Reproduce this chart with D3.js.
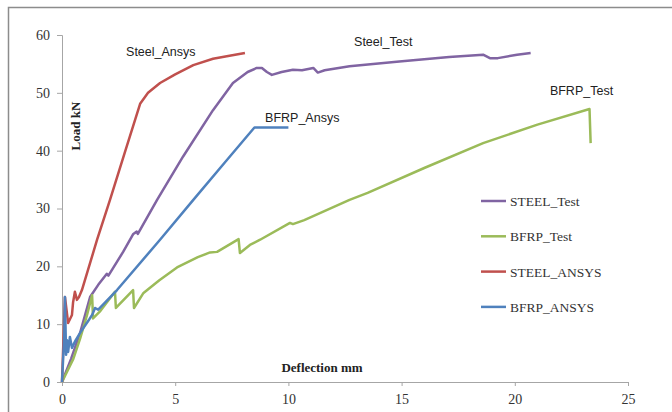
<!DOCTYPE html>
<html>
<head>
<meta charset="utf-8">
<script src="https://cdn.jsdelivr.net/npm/d3@7"></script>
<style>
  body { margin: 0; background: #fff; }
  svg { display: block; }
</style>
</head>
<body>
<div id="chart"></div>
<script>
// load - deflection data (x = deflection mm, y = load kN)
var steelTest = [[0, 0], [0.4, 4], [0.8, 8.5], [1.24, 14.7], [1.6, 16.8], [1.98, 18.7], [2.05, 18.4], [2.7, 22.5],
  [3.15, 25.6], [3.3, 26], [3.35, 25.6], [4.2, 31.5], [5.35, 39], [6.67, 47], [7.55, 51.7], [8.2, 53.6], [8.6, 54.3],
  [8.83, 54.3], [9.05, 53.6], [9.27, 53.1], [9.7, 53.6], [10.2, 54], [10.6, 53.9], [11.1, 54.3], [11.3, 53.5],
  [11.6, 53.9], [12.7, 54.6], [14.9, 55.4], [17.1, 56.2], [18.6, 56.6], [18.9, 56], [19.25, 56], [20.1, 56.6], [20.7, 56.9]];

var bfrpTest = [[0, 0], [0.5, 4], [0.8, 7.5], [1.1, 11.5], [1.33, 15], [1.37, 11], [1.7, 12.3], [2.34, 15.6],
  [2.38, 12.8], [3.14, 15.9], [3.18, 12.8], [3.6, 15.4], [4.3, 17.6], [5.08, 19.8], [6.0, 21.6], [6.54, 22.4],
  [6.85, 22.5], [7.8, 24.7], [7.86, 22.3], [8.3, 23.7], [8.75, 24.6], [10.07, 27.5], [10.2, 27.3], [10.7, 28],
  [12.7, 31.5], [13.5, 32.7], [16, 37], [18.6, 41.3], [21, 44.5], [23.3, 47.2], [23.35, 41.3]];

var steelAnsys = [[0, 0], [0.13, 14.7], [0.27, 10.2], [0.44, 11.6], [0.49, 13.8], [0.57, 15.6], [0.66, 14.2],
  [0.75, 14.7], [0.88, 15.9], [1.55, 24.6], [2.12, 31.5], [2.8, 40], [3.45, 48.1], [3.8, 50], [4.33, 51.7],
  [5.0, 53.2], [5.8, 54.8], [6.67, 55.9], [7.4, 56.4], [8.08, 56.9]];

var bfrpAnsys = [[0, 0], [0.1, 8], [0.13, 14.7], [0.18, 4.7], [0.22, 7.2], [0.27, 5.2], [0.35, 7.8], [0.44, 5.9],
  [0.6, 7.2], [0.8, 8.5], [1.2, 10.8], [1.33, 11.6], [1.46, 12.8], [1.6, 12.5], [2.43, 15.9], [4.33, 24.6],
  [5.8, 31.5], [7.2, 38], [8.5, 44], [10, 44]];

var seriesNames = ["STEEL_Test", "BFRP_Test", "STEEL_ANSYS", "BFRP_ANSYS"];
var seriesColors = ["#8064A2", "#9BBB59", "#C0504D", "#4F81BD"];
var labels = ["Steel_Test", "BFRP_Test", "Steel_Ansys", "BFRP_Ansys"];
var xTicks = [0, 5, 10, 15, 20, 25];
var yTicks = [0, 10, 20, 30, 40, 50, 60];

var width = 672,
    height = 412;

var svg = d3.select("#chart").append("svg")
    .attr("width", width)
    .attr("height", height);

// outer frame
svg.append("rect")
    .attr("x", 8.5)
    .attr("y", 7.5)
    .attr("width", width)
    .attr("height", height)
    .style("fill", "none")
    .style("stroke", "#8c8c8c")
    .style("stroke-width", "1.5px");

var x = d3.scaleLinear().domain([0, 25]).range([62, 628]);
var y = d3.scaleLinear().domain([0, 60]).range([382, 35]);

// axes
var xAxis = svg.append("g")
    .attr("transform", "translate(0," + y(0) + ")")
    .call(d3.axisBottom(x).tickValues(xTicks).tickSize(4).tickPadding(8));

var yAxis = svg.append("g")
    .attr("transform", "translate(" + x(0) + ",0)")
    .call(d3.axisLeft(y).tickValues(yTicks).tickSize(5).tickPadding(7));

[xAxis, yAxis].forEach(function (g) {
    g.select(".domain").style("stroke", "#a6a6a6");
    g.selectAll(".tick line").style("stroke", "#a6a6a6");
    g.selectAll(".tick text")
        .style("font-family", "'Liberation Serif', 'Times New Roman', serif")
        .style("font-size", "14px")
        .style("fill", "#333");
});

// axis titles
svg.append("text")
    .attr("transform", "translate(80,126) rotate(-90)")
    .attr("text-anchor", "middle")
    .style("font-family", "'Liberation Serif', serif")
    .style("font-weight", "bold")
    .style("font-size", "13px")
    .style("fill", "#222")
    .text("Load kN");

svg.append("text")
    .attr("x", 322)
    .attr("y", 372)
    .attr("text-anchor", "middle")
    .style("font-family", "'Liberation Serif', serif")
    .style("font-weight", "bold")
    .style("font-size", "13px")
    .style("fill", "#222")
    .text("Deflection mm");

// series
var line = d3.line()
    .x(function (d) { return x(d[0]); })
    .y(function (d) { return y(d[1]); });

var allSeries = [steelTest, bfrpTest, steelAnsys, bfrpAnsys];

allSeries.forEach(function (s, i) {
    svg.append("path")
        .datum(s)
        .attr("d", line)
        .style("fill", "none")
        .style("stroke", seriesColors[i])
        .style("stroke-width", "2.5px")
        .style("stroke-linejoin", "round");
});

// labels on the curves
var labelPos = [[12.9, 58.1], [21.55, 49.6], [2.83, 56.4], [8.97, 45]];

labels.forEach(function (t, i) {
    svg.append("text")
        .attr("x", x(labelPos[i][0]))
        .attr("y", y(labelPos[i][1]))
        .style("font-family", "'Liberation Sans', Arial, sans-serif")
        .style("font-size", "12.5px")
        .style("fill", "#222")
        .text(t);
});

// legend
var legend = svg.append("g").attr("transform", "translate(481,201)");

seriesNames.forEach(function (n, i) {
    var row = legend.append("g").attr("transform", "translate(0," + (i * 35.3) + ")");
    row.append("line")
        .attr("x1", 0)
        .attr("x2", 25)
        .attr("y1", 0)
        .attr("y2", 0)
        .style("stroke", seriesColors[i])
        .style("stroke-width", "2.5px");
    row.append("text")
        .attr("x", 29)
        .attr("y", 5)
        .style("font-family", "'Liberation Serif', 'Times New Roman', serif")
        .style("font-size", "13.5px")
        .style("fill", "#333")
        .text(n);
});
</script>
</body>
</html>
